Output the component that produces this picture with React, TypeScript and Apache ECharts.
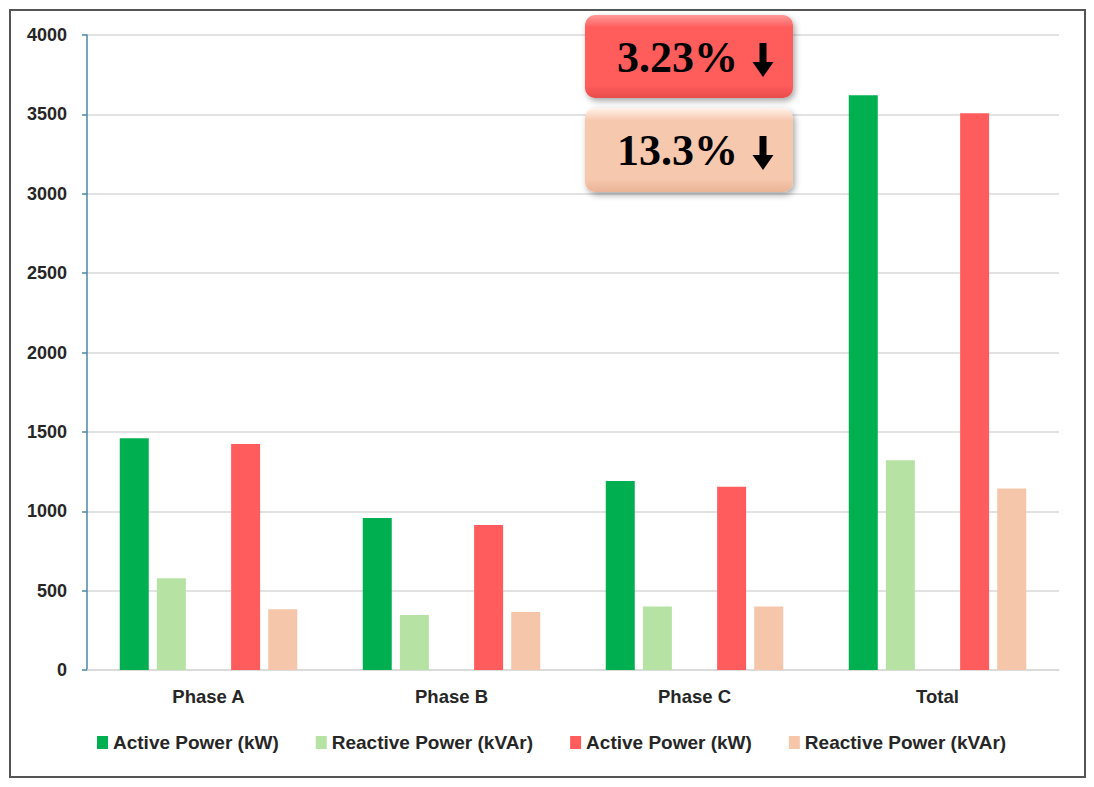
import React, { useEffect, useRef } from "react";
import * as echarts from "echarts";

const categories = ["Phase A", "Phase B", "Phase C", "Total"];
const activeBefore = [1460, 957, 1190, 3620];
const reactiveBefore = [578, 346, 400, 1321];
const activeAfter = [1424, 913, 1155, 3507];
const reactiveAfter = [382, 365, 400, 1144];
const seriesKeys = ["activeBefore", "reactiveBefore", "activeAfter", "reactiveAfter"];
const legendLabels = ["Active Power (kW)", "Reactive Power (kVAr)", "Active Power (kW)", "Reactive Power (kVAr)"];
const seriesColors = ["#00b050", "#b6e3a3", "#ff5d5d", "#f5c6aa"];
const badgeTexts = ["3.23%", "13.3%"];

function arrow(cx: number, top: number) {
  return {
    type: "polygon",
    shape: {
      points: [
        [cx - 3.5, top],
        [cx + 3.5, top],
        [cx + 3.5, top + 19],
        [cx + 10.5, top + 19],
        [cx, top + 34],
        [cx - 10.5, top + 19],
        [cx - 3.5, top + 19],
      ],
    },
    style: { fill: "#000" },
    z: 110,
  };
}

function badge(y: number, h: number, text: string, stops: string[], textY: number) {
  return [
    {
      type: "rect",
      shape: { x: 585, y, width: 208, height: h, r: 10 },
      style: {
        fill: new echarts.graphic.LinearGradient(0, 0, 0, 1, [
          { offset: 0, color: stops[0] },
          { offset: 0.15, color: stops[1] },
          { offset: 0.85, color: stops[1] },
          { offset: 1, color: stops[2] },
        ]),
        shadowBlur: 6,
        shadowOffsetX: 2,
        shadowOffsetY: 3,
        shadowColor: "rgba(0,0,0,0.35)",
      },
      z: 100,
    },
    {
      type: "text",
      x: 738,
      y: textY,
      style: {
        text,
        fontFamily: "Liberation Serif",
        fontWeight: "bold",
        fontSize: 44,
        fill: "#000",
        align: "right",
        verticalAlign: "middle",
      },
      z: 110,
    },
    arrow(763, textY - 14),
  ];
}

export default function App() {
  const ref = useRef<HTMLDivElement>(null);
  useEffect(() => {
    if (!ref.current) return;
    const chart = echarts.init(ref.current, undefined, { renderer: "svg" });
    const dataSets = [activeBefore, reactiveBefore, activeAfter, reactiveAfter];
    const bars: any[] = seriesKeys.map((k, i) => ({
      name: k,
      type: "bar",
      data: dataSets[i],
      barWidth: 29,
      barGap: "28%",
      itemStyle: { color: seriesColors[i] },
    }));
    // empty slot between the two groups
    bars.splice(2, 0, {
      name: "spacer",
      type: "bar",
      data: categories.map(() => null),
      barWidth: 29,
      barGap: "28%",
    });
    const labelMap: Record<string, string> = {};
    seriesKeys.forEach((k, i) => (labelMap[k] = legendLabels[i]));
    chart.setOption({
      animation: false,
      backgroundColor: "#fff",
      textStyle: { fontFamily: "Liberation Sans" },
      grid: { left: 87, right: 35, top: 35, bottom: 117, containLabel: false },
      legend: {
        data: seriesKeys,
        left: 92,
        top: 728,
        itemGap: 37,
        itemWidth: 11,
        itemHeight: 13,
        icon: "rect",
        formatter: (n: string) => labelMap[n] || n,
        textStyle: { fontSize: 19, fontWeight: "bold", color: "#262626", fontFamily: "Liberation Sans" },
      },
      xAxis: {
        type: "category",
        data: categories,
        axisLine: { lineStyle: { color: "#d9d9d9", width: 1.5 } },
        axisTick: { show: false },
        axisLabel: { margin: 17, fontSize: 18.5, fontWeight: "bold", color: "#262626" },
      },
      yAxis: {
        type: "value",
        min: 0,
        max: 4000,
        interval: 500,
        axisLine: { show: true, lineStyle: { color: "#4a86a8", width: 1.5 } },
        axisTick: { show: true, length: 5, lineStyle: { color: "#4a86a8", width: 1.5 } },
        axisLabel: {
          margin: 20,
          fontSize: 18,
          fontWeight: "bold",
          color: "#262626",
          formatter: (v: number) => String(v),
        },
        splitLine: { lineStyle: { color: "#d9d9d9", width: 1.5 } },
      },
      series: bars,
      graphic: [
        {
          type: "rect",
          shape: { x: 10, y: 10, width: 1075, height: 767 },
          style: { fill: "none", stroke: "#555", lineWidth: 2 },
          silent: true,
          z: 90,
        },
        ...badge(15, 83, badgeTexts[0], ["#ff9a9a", "#ff5c5c", "#e84c4c"], 57),
        ...badge(108, 84, badgeTexts[1], ["#fff3ea", "#f6c8ad", "#eab396"], 150),
      ],
    });
    return () => chart.dispose();
  }, []);
  return (
    <div
      ref={ref}
      style={{ position: "fixed", left: 0, top: 0, width: 1094, height: 787, background: "#fff" }}
    />
  );
}
